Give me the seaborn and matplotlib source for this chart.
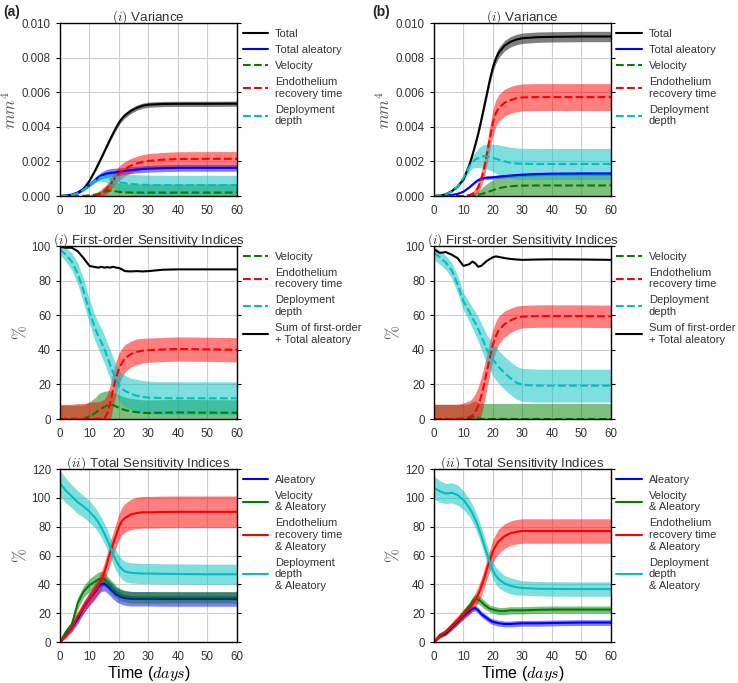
"""
Variance and Sobol sensitivity indices over time, for two scenarios (a) and (b).
"""

import matplotlib
matplotlib.use("Agg")
import matplotlib.pyplot as plt
import numpy as np
import seaborn as sns
from matplotlib.ticker import FormatStrFormatter

# sample times (days)
T = [0, 2, 4, 6, 8, 10, 12, 13, 14, 15, 16, 17, 18, 19, 20, 21, 22, 24, 26, 28,
     30, 35, 40, 50, 60]

# ---- (a) variance, in units of 1e-3 mm^4 (mean and band half-width) ----
a_var_total = [0.00, 0.03, 0.08, 0.20, 0.42, 0.88, 1.50, 1.85, 2.20, 2.56, 2.92, 3.28, 3.62,
               3.95, 4.25, 4.48, 4.66, 4.92, 5.10, 5.22, 5.28, 5.32, 5.33, 5.33, 5.34]
a_var_total_sd = [0.00, 0.00, 0.01, 0.02, 0.03, 0.05, 0.07, 0.08, 0.09, 0.10, 0.11, 0.12, 0.13,
                  0.14, 0.14, 0.15, 0.15, 0.15, 0.15, 0.15, 0.15, 0.15, 0.15, 0.15, 0.15]
a_var_aleatory = [0.00, 0.02, 0.06, 0.16, 0.36, 0.65, 0.95, 1.08, 1.18, 1.25, 1.30, 1.33, 1.35,
                  1.37, 1.40, 1.43, 1.46, 1.50, 1.53, 1.56, 1.58, 1.61, 1.63, 1.63, 1.63]
a_var_aleatory_sd = [0.00, 0.00, 0.01, 0.03, 0.06, 0.10, 0.15, 0.18, 0.20, 0.22, 0.24, 0.25, 0.25,
                     0.24, 0.22, 0.21, 0.20, 0.20, 0.20, 0.20, 0.20, 0.20, 0.20, 0.20, 0.20]
a_var_velocity = [0.00, 0.00, 0.00, 0.00, 0.01, 0.03, 0.08, 0.12, 0.18, 0.24, 0.29, 0.31, 0.30,
                  0.27, 0.24, 0.22, 0.21, 0.20, 0.20, 0.20, 0.20, 0.20, 0.20, 0.20, 0.20]
a_var_velocity_sd = [0.00, 0.00, 0.00, 0.01, 0.02, 0.05, 0.10, 0.15, 0.22, 0.30, 0.38, 0.44, 0.48,
                     0.50, 0.50, 0.50, 0.50, 0.50, 0.50, 0.50, 0.50, 0.50, 0.50, 0.50, 0.50]
a_var_endo = [0.00, 0.00, 0.00, 0.00, 0.00, 0.01, 0.04, 0.08, 0.15, 0.26, 0.42, 0.65, 0.90,
              1.12, 1.30, 1.45, 1.57, 1.75, 1.88, 1.97, 2.03, 2.10, 2.14, 2.15, 2.15]
a_var_endo_sd = [0.00, 0.00, 0.00, 0.00, 0.01, 0.02, 0.06, 0.10, 0.16, 0.22, 0.28, 0.33, 0.37,
                 0.40, 0.42, 0.42, 0.42, 0.42, 0.42, 0.42, 0.42, 0.42, 0.42, 0.42, 0.42]
a_var_depth = [0.00, 0.02, 0.06, 0.16, 0.36, 0.64, 0.92, 1.02, 1.08, 1.10, 1.06, 0.98, 0.90,
               0.84, 0.80, 0.77, 0.74, 0.70, 0.67, 0.65, 0.64, 0.63, 0.63, 0.63, 0.63]
a_var_depth_sd = [0.00, 0.00, 0.01, 0.03, 0.06, 0.10, 0.15, 0.18, 0.22, 0.26, 0.30, 0.35, 0.40,
                  0.45, 0.48, 0.50, 0.52, 0.55, 0.56, 0.57, 0.57, 0.57, 0.57, 0.57, 0.57]

# ---- (b) variance, in units of 1e-3 mm^4 ----
b_var_total = [0.00, 0.03, 0.10, 0.28, 0.55, 0.95, 1.80, 2.35, 2.95, 3.60, 4.35, 5.15, 5.95,
               6.75, 7.45, 7.95, 8.30, 8.70, 8.92, 9.05, 9.12, 9.18, 9.20, 9.22, 9.22]
b_var_total_sd = [0.00, 0.00, 0.01, 0.02, 0.04, 0.06, 0.10, 0.12, 0.14, 0.16, 0.18, 0.20, 0.22,
                  0.24, 0.26, 0.28, 0.29, 0.30, 0.30, 0.30, 0.30, 0.30, 0.30, 0.30, 0.30]
b_var_aleatory = [0.00, 0.01, 0.03, 0.06, 0.12, 0.25, 0.50, 0.65, 0.80, 0.92, 1.00, 1.04, 1.06,
                  1.07, 1.08, 1.10, 1.12, 1.15, 1.18, 1.21, 1.23, 1.27, 1.29, 1.30, 1.30]
b_var_aleatory_sd = [0.00, 0.00, 0.00, 0.01, 0.02, 0.03, 0.05, 0.06, 0.07, 0.08, 0.09, 0.10, 0.10,
                     0.10, 0.10, 0.10, 0.10, 0.10, 0.10, 0.10, 0.10, 0.10, 0.10, 0.10, 0.10]
b_var_velocity = [0.00, 0.00, 0.00, 0.00, 0.00, 0.00, 0.01, 0.02, 0.04, 0.07, 0.11, 0.16, 0.22,
                  0.28, 0.34, 0.40, 0.45, 0.52, 0.56, 0.59, 0.60, 0.61, 0.61, 0.61, 0.61]
b_var_velocity_sd = [0.00, 0.00, 0.00, 0.00, 0.00, 0.01, 0.04, 0.08, 0.14, 0.22, 0.32, 0.42, 0.50,
                     0.56, 0.60, 0.64, 0.66, 0.68, 0.70, 0.70, 0.70, 0.70, 0.70, 0.70, 0.70]
b_var_endo = [0.00, 0.00, 0.00, 0.00, 0.00, 0.00, 0.05, 0.12, 0.25, 0.50, 0.95, 1.60, 2.45,
              3.40, 4.25, 4.80, 5.10, 5.40, 5.55, 5.65, 5.70, 5.72, 5.72, 5.72, 5.72]
b_var_endo_sd = [0.00, 0.00, 0.00, 0.00, 0.00, 0.00, 0.05, 0.10, 0.18, 0.28, 0.40, 0.52, 0.62,
                 0.70, 0.74, 0.76, 0.77, 0.78, 0.78, 0.78, 0.78, 0.78, 0.78, 0.78, 0.78]
b_var_depth = [0.00, 0.03, 0.10, 0.25, 0.55, 1.05, 1.70, 1.95, 2.10, 2.20, 2.28, 2.30, 2.28,
               2.25, 2.20, 2.15, 2.10, 2.00, 1.92, 1.88, 1.86, 1.85, 1.85, 1.85, 1.85]
b_var_depth_sd = [0.00, 0.00, 0.02, 0.05, 0.10, 0.18, 0.28, 0.35, 0.45, 0.55, 0.62, 0.68, 0.72,
                  0.76, 0.80, 0.83, 0.86, 0.88, 0.90, 0.90, 0.90, 0.90, 0.90, 0.90, 0.90]

# ---- (a) first-order indices, % ----
a_fo_velocity = [0, 0, 0, 0, 0, 1.5, 3.5, 5, 6, 7, 7.8, 8.3, 8, 7.3, 6.5, 5.8, 5.2, 4.4, 4,
                 3.6, 3.5, 3.7, 3.8, 3.7, 3.6]
a_fo_velocity_sd = [8, 8, 8, 8, 8, 8.5, 9, 9.5, 9.5, 9, 8.5, 8, 7.5, 7.5, 7.5, 7.5, 7.5, 7.5,
                    7.5, 7.5, 7.5, 7.5, 7.5, 7.5, 7.5]
a_fo_endo = [0, 0, 0, 0, 0, 0, 0, 0, 0, 0.5, 3, 9, 17, 24, 29, 32.5, 35, 37.5, 38.8, 39.5,
             39.8, 40.2, 40.5, 40.3, 40]
a_fo_endo_sd = [8.5, 8.5, 8.5, 9, 9, 9.5, 10, 10, 10.5, 11, 11, 10.5, 10, 9.5, 9, 8.5, 8, 7.5,
                7.5, 7.2, 7, 7, 7, 7, 7]
a_fo_depth = [98, 95, 91, 84, 74, 62, 52, 48, 44.5, 40.5, 36, 31.5, 27, 23, 19.5, 17.5, 16.3,
              14.6, 13.5, 12.8, 12.4, 12.1, 12, 12, 12]
a_fo_depth_sd = [3, 4, 5, 6, 7, 7, 7.5, 7.5, 8, 8, 8, 8.5, 8.5, 8.5, 8.5, 9, 9, 9, 9.5, 9.5,
                 9.5, 9.5, 9.5, 9.5, 9.5]
a_fo_sum = [99.5, 99, 99, 97, 93, 88.5, 87.8, 87.5, 88, 87.5, 87.8, 87.5, 88, 87.5, 87.3, 86.5,
            85.5, 85.3, 85.5, 85.3, 85.5, 86.3, 86.5, 86.5, 86.5]

# ---- (b) first-order indices, % ----
b_fo_velocity = [0, 0, 0, 0, 0, 0, 0.3, 1, 1.5, 0.5, 0, 0, 0, 0, 0, 0, 0, 0, 0, 0, 0, 0, 0,
                 0, 0]
b_fo_velocity_sd = [8.5, 8.5, 8.5, 8.5, 8.5, 8.5, 8.5, 9, 9, 9, 9, 9, 9, 9, 9, 9, 9, 9, 9, 9,
                    9, 9, 9, 9, 9]
b_fo_endo = [0, 0, 0, 0, 0, 0.3, 1, 2, 4, 7.5, 13, 20, 28, 36, 43, 48, 51.5, 55, 57, 58.5,
             59.2, 59.5, 59.5, 59.5, 59.3]
b_fo_endo_sd = [8.5, 8.5, 8.5, 8.5, 8.5, 9, 9.5, 10, 10.5, 11, 11, 10.5, 10, 9.5, 9, 8.5, 8,
                7.5, 7, 6.8, 6.5, 6.5, 6.5, 6.5, 6.5]
b_fo_depth = [96, 93.5, 90.5, 86, 78, 68, 62, 58.5, 55.5, 52, 48, 44, 40, 37, 34.5, 32, 30,
              26.5, 23.5, 21, 19.7, 19.3, 19.3, 19.3, 19.3]
b_fo_depth_sd = [4, 4, 4, 4.5, 5, 5, 5.5, 6, 6.5, 7, 7.5, 8, 8.5, 9, 9.5, 9.5, 9.5, 9.5, 9.5,
                 9.5, 9.5, 9.5, 9.5, 9.5, 9.5]
b_fo_sum = [98, 96, 96.5, 95, 93, 88.5, 89.5, 91, 90, 88, 88.5, 90, 91.5, 92.5, 93.5, 94,
            93.7, 93, 92.5, 92.2, 92, 92.2, 92.3, 92.2, 92]

# ---- (a) total indices, % ----
a_tot_aleatory = [0, 6, 10, 16, 24, 30, 35, 38, 40, 40.5, 39, 37, 35, 33, 32, 31, 30.5, 30,
                  30, 30, 30, 29.8, 29.8, 29.8, 29.8]
a_tot_aleatory_sd = [0.5, 2, 3, 3.5, 4, 4.5, 5, 5, 5, 5, 5, 5, 5, 5, 5, 5, 5, 5, 5, 5, 5, 5, 5,
                     5, 5]
a_tot_velocity = [0, 7, 12, 27, 35, 39.5, 42, 43.5, 44, 43.5, 41.5, 39, 37, 35, 33.5, 32.5,
                  31.8, 31.2, 31, 31, 31, 31, 31, 31, 31]
a_tot_velocity_sd = [0.5, 2, 3, 4, 4, 4.5, 5, 5, 5, 5, 4.5, 4.5, 4.5, 4, 4, 4, 4, 4, 4, 4, 4,
                     4, 4, 4, 4]
a_tot_endo = [0, 4, 10, 18, 24, 30, 36, 39, 43, 48, 55, 62, 68, 74, 80, 84, 86, 88.5, 89.5, 90,
              90, 90.2, 90.3, 90.3, 90.3]
a_tot_endo_sd = [0.5, 1.5, 2.5, 3.5, 4, 4.5, 5, 5.5, 6, 6.5, 7, 7.5, 8, 8.5, 9, 9.5, 10, 10.5,
                 11, 11, 11, 11, 11, 11, 11]
a_tot_depth = [110, 105, 101, 97, 94, 90.5, 86, 83, 79.5, 75.5, 71, 66, 61, 56.5, 53, 50.5, 49,
               48, 47.7, 47.5, 47.5, 47.3, 47.2, 47, 47]
a_tot_depth_sd = [9, 8.5, 8, 8, 7.5, 7.5, 7, 7, 7, 7, 7, 7, 7, 7, 7, 7, 7, 7, 7, 7, 7, 7, 7, 7,
                  7]

# ---- (b) total indices, % ----
b_tot_aleatory = [0, 4, 6, 10, 14, 18, 21.5, 23, 23.5, 22, 19.5, 18, 16.5, 15, 14, 13.5, 13,
                  12.5, 12.5, 12.8, 13, 13, 13.2, 13.5, 13.5]
b_tot_aleatory_sd = [0.5, 1, 1.5, 2, 2, 2, 2, 2, 2, 2, 2, 2, 2, 2, 2, 2, 2, 2, 2, 2, 2, 2, 2,
                     2, 2]
b_tot_velocity = [0, 5, 7, 11, 15, 20, 25, 28, 30, 29.5, 28, 26, 24.5, 23, 22.5, 22, 21.5, 21.5,
                  22, 22, 22, 22.3, 22.5, 22.5, 22.5]
b_tot_velocity_sd = [0.5, 1.5, 2, 2.5, 2.5, 2.5, 2.5, 3, 3, 3, 3, 3, 2.5, 2.5, 2.5, 2.5, 2.5,
                     2.5, 2.5, 2.5, 2.5, 2.5, 2.5, 2.5, 2.5]
b_tot_endo = [0, 4, 7, 11, 15, 19, 23, 26, 29, 33, 38, 44, 51, 57, 63, 67, 70, 73.5, 75.5,
              76.5, 77, 77, 77, 77, 77]
b_tot_endo_sd = [0.5, 1.5, 2, 2.5, 3, 3.5, 4, 4.5, 5, 5.5, 6, 6.5, 7, 7.5, 8, 8, 8.5, 8.5, 8.5,
                 8.5, 8.5, 8.5, 8.5, 8.5, 8.5]
b_tot_depth = [107, 104.5, 103, 103.5, 102, 98.5, 93, 89.5, 85, 80, 74, 67.5, 61, 55, 49.5, 46,
               43.5, 40.5, 39, 38, 37.5, 37, 36.8, 36.7, 36.7]
b_tot_depth_sd = [8, 7.5, 7, 7, 7, 6.5, 6, 6, 6, 6, 6, 6, 6, 6, 6, 6, 6, 5.5, 5.5, 5.5, 5, 5,
                  5, 5, 5]

sns.set_style("whitegrid")
plt.rcParams["font.family"] = ["Liberation Sans", "DejaVu Sans"]
plt.rcParams["mathtext.fontset"] = "cm"

GREY = "#333333"


def band(ax, mean, sd, color, style, label, scale=1.0):
    """draw one mean line with a +/- sd shaded band"""
    mean = np.array(mean) * scale
    sd = np.array(sd) * scale
    ax.fill_between(T, mean - sd, mean + sd, color=color, alpha=0.5, lw=0)
    sns.lineplot(x=T, y=mean, ax=ax, color=color, linestyle=style, lw=1.5,
                 label=label)


def style_axes(ax, ylim, yticks, title, ylabel, ylabel_size):
    ax.set_xlim(0, 60)
    ax.set_ylim(*ylim)
    ax.set_xticks(range(0, 61, 10))
    ax.set_yticks(yticks)
    ax.set_title(title, fontsize=9.6, color=GREY, pad=1.5)
    ax.set_ylabel(ylabel, fontsize=ylabel_size, color="#555555", labelpad=2)
    for sp in ax.spines.values():
        sp.set_color("black")
        sp.set_linewidth(1.0)
    ax.grid(color="#d0d0d0", lw=0.8)
    ax.tick_params(axis="both", labelsize=8.3, colors=GREY, length=3,
                   direction="out", left=True, right=True, bottom=False)
    ax.tick_params(axis="y", color="black")
    ax.legend(loc="upper left", bbox_to_anchor=(1.0, 1.0), frameon=False,
              fontsize=8, handlelength=2.3, handletextpad=0.6,
              labelspacing=0.55, borderaxespad=0.1, labelcolor=GREY)


fig = plt.figure(figsize=(7.38, 6.83), dpi=100)
lefts = [0.0813, 0.588]
bottoms = [0.713, 0.3865, 0.060]
w, h = 0.2398, 0.2533

var_sets = [
    (a_var_total, a_var_total_sd, a_var_aleatory, a_var_aleatory_sd, a_var_velocity,
     a_var_velocity_sd, a_var_endo, a_var_endo_sd, a_var_depth, a_var_depth_sd),
    (b_var_total, b_var_total_sd, b_var_aleatory, b_var_aleatory_sd, b_var_velocity,
     b_var_velocity_sd, b_var_endo, b_var_endo_sd, b_var_depth, b_var_depth_sd),
]
fo_sets = [
    (a_fo_velocity, a_fo_velocity_sd, a_fo_endo, a_fo_endo_sd, a_fo_depth, a_fo_depth_sd,
     a_fo_sum),
    (b_fo_velocity, b_fo_velocity_sd, b_fo_endo, b_fo_endo_sd, b_fo_depth, b_fo_depth_sd,
     b_fo_sum),
]
tot_sets = [
    (a_tot_aleatory, a_tot_aleatory_sd, a_tot_velocity, a_tot_velocity_sd, a_tot_endo,
     a_tot_endo_sd, a_tot_depth, a_tot_depth_sd),
    (b_tot_aleatory, b_tot_aleatory_sd, b_tot_velocity, b_tot_velocity_sd, b_tot_endo,
     b_tot_endo_sd, b_tot_depth, b_tot_depth_sd),
]

for col in range(2):
    # variance
    ax = fig.add_axes([lefts[col], bottoms[0], w, h])
    tot, tot_sd, ale, ale_sd, vel, vel_sd, endo, endo_sd, dep, dep_sd = var_sets[col]
    band(ax, tot, tot_sd, "k", "-", "Total", 1e-3)
    band(ax, ale, ale_sd, "b", "-", "Total aleatory", 1e-3)
    band(ax, vel, vel_sd, "g", "--", "Velocity", 1e-3)
    band(ax, endo, endo_sd, "r", "--", "Endothelium\nrecovery time", 1e-3)
    band(ax, dep, dep_sd, "c", "--", "Deployment\ndepth", 1e-3)
    style_axes(ax, (0, 0.010), np.arange(0, 0.0101, 0.002), "$(i)$ Variance",
               "$mm^4$", 12)
    ax.yaxis.set_major_formatter(FormatStrFormatter("%.3f"))

    # first-order
    ax = fig.add_axes([lefts[col], bottoms[1], w, h])
    vel, vel_sd, endo, endo_sd, dep, dep_sd, ssum = fo_sets[col]
    band(ax, vel, vel_sd, "g", "--", "Velocity")
    band(ax, endo, endo_sd, "r", "--", "Endothelium\nrecovery time")
    band(ax, dep, dep_sd, "c", "--", "Deployment\ndepth")
    sns.lineplot(x=T, y=ssum, ax=ax, color="k", lw=1.5,
                 label="Sum of first-order\n+ Total aleatory")
    style_axes(ax, (0, 100), range(0, 101, 20),
               "$(i)$ First-order Sensitivity Indices", "$\\%$", 12)

    # total
    ax = fig.add_axes([lefts[col], bottoms[2], w, h])
    ale, ale_sd, vel, vel_sd, endo, endo_sd, dep, dep_sd = tot_sets[col]
    band(ax, ale, ale_sd, "b", "-", "Aleatory")
    band(ax, vel, vel_sd, "g", "-", "Velocity\n& Aleatory")
    band(ax, endo, endo_sd, "r", "-", "Endothelium\nrecovery time\n& Aleatory")
    band(ax, dep, dep_sd, "c", "-", "Deployment\ndepth\n& Aleatory")
    style_axes(ax, (0, 120), range(0, 121, 20),
               "$(ii)$ Total Sensitivity Indices", "$\\%$", 12)
    ax.set_xlabel("Time ($days$)", fontsize=11.5, color="black", labelpad=1)

fig.text(0.004, 0.977, "(a)", fontsize=10, fontweight="bold")
fig.text(0.504, 0.977, "(b)", fontsize=10, fontweight="bold")

fig.savefig("out.png", dpi=100)
